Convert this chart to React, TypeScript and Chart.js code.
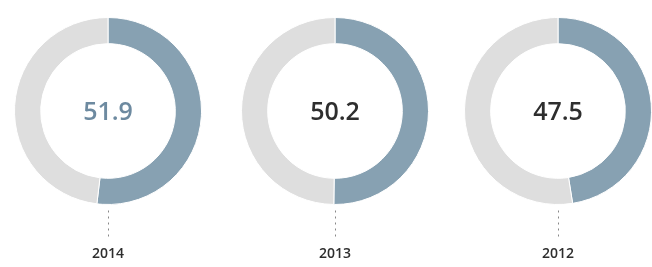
import React, { useEffect, useRef } from "react";
import { Chart, registerables } from "chart.js";

Chart.register(...registerables);

const years = ["2014", "2013", "2012"];
const shares = [51.9, 50.2, 47.5];
const centerColors = ["#6d8aa0", "#2e2e2e", "#2e2e2e"];
const centersX = [108, 335, 558];

const BLUE = "#87a1b2";
const GREY = "#dedede";

function Donut({ idx }: { idx: number }) {
  const ref = useRef<HTMLCanvasElement | null>(null);
  useEffect(() => {
    const canvas = ref.current;
    if (!canvas) return;
    const value = shares[idx];
    const overlay = {
      id: "overlay" + idx,
      afterDraw(chart: any) {
        const ctx = chart.ctx;
        const meta = chart.getDatasetMeta(0);
        const arc = meta.data[0];
        const cx = arc.x;
        const cy = arc.y;
        const r = arc.outerRadius;
        ctx.save();
        ctx.fillStyle = centerColors[idx];
        ctx.font = "600 25px 'Open Sans', sans-serif";
        ctx.textAlign = "center";
        ctx.textBaseline = "middle";
        ctx.fillText(value.toFixed(1), cx, cy + 2);
        // dotted leader
        ctx.strokeStyle = "#888";
        ctx.lineWidth = 1;
        ctx.setLineDash([2, 4]);
        ctx.beginPath();
        ctx.moveTo(cx + 0.5, cy + r + 6);
        ctx.lineTo(cx + 0.5, cy + r + 36);
        ctx.stroke();
        ctx.setLineDash([]);
        ctx.fillStyle = "#2e2e2e";
        ctx.font = "600 14px 'Open Sans', sans-serif";
        ctx.fillText(years[idx], cx, cy + r + 50);
        ctx.restore();
      },
    };
    const chart = new Chart(canvas, {
      type: "doughnut",
      data: {
        labels: ["share", "rest"],
        datasets: [
          {
            data: [value, 100 - value],
            backgroundColor: [BLUE, GREY],
            borderColor: "#ffffff",
            borderWidth: 1,
          },
        ],
      },
      options: {
        animation: false,
        responsive: false,
        maintainAspectRatio: false,
        cutout: "72%",
        layout: { padding: { top: 17, bottom: 62, left: 0, right: 0 } },
        plugins: { legend: { display: false }, tooltip: { enabled: false } },
      },
      plugins: [overlay],
    });
    return () => chart.destroy();
  }, [idx]);
  return (
    <canvas
      ref={ref}
      width={200}
      height={267}
      style={{ position: "absolute", left: centersX[idx] - 100, top: 0, width: 200, height: 267 }}
    />
  );
}

export default function App() {
  return (
    <div
      style={{
        position: "fixed",
        left: 0,
        top: 0,
        width: 652,
        height: 267,
        overflow: "hidden",
        background: "#ffffff",
      }}
    >
      {years.map((_, i) => (
        <Donut key={i} idx={i} />
      ))}
    </div>
  );
}
